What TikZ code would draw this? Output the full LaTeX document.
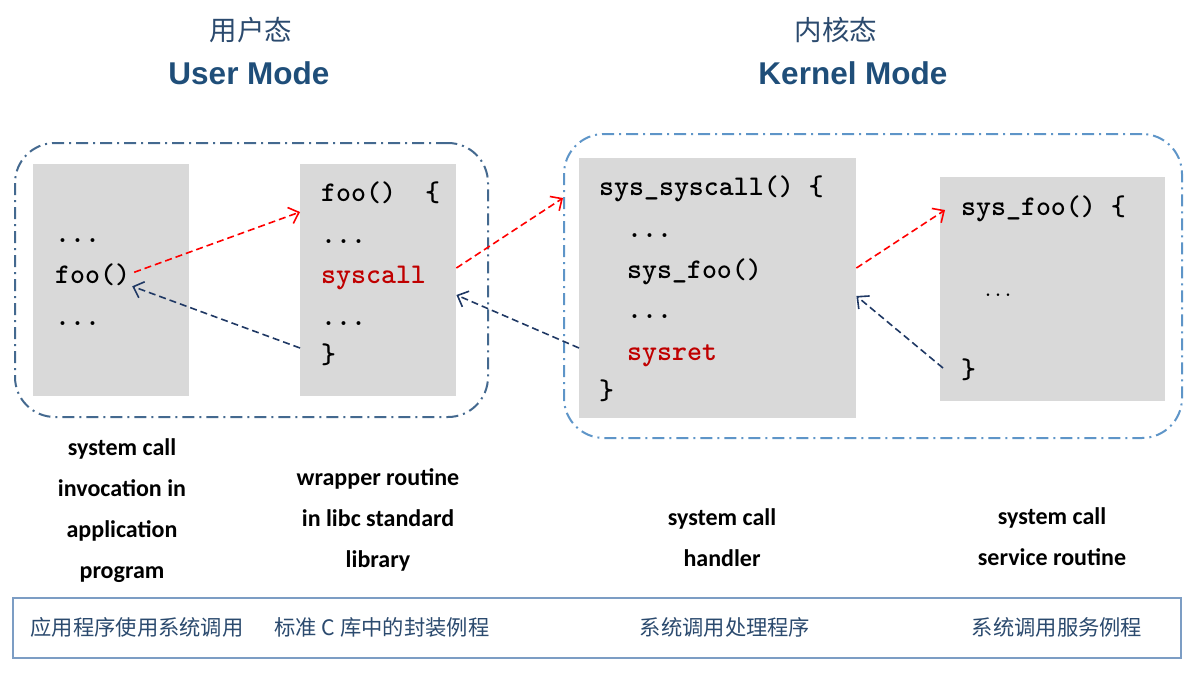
\documentclass[tikz,border=0pt]{standalone}
\usepackage{fontspec}
\setmainfont{Liberation Sans}
\newfontfamily\cjk{Noto Sans CJK SC}
\newfontfamily\lblfont{Carlito}
\usetikzlibrary{arrows.meta,calc}
\definecolor{gbox}{HTML}{D9D9D9}
\definecolor{titleblue}{HTML}{1F4E79}
\definecolor{cjkblue}{HTML}{2B4A6E}
\definecolor{frameL}{HTML}{44698F}
\definecolor{frameR}{HTML}{5E95C8}
\definecolor{arrblue}{HTML}{1F3864}
\definecolor{codered}{HTML}{C00000}
\definecolor{bottomframe}{HTML}{7C9DC4}
\begin{document}
\begin{tikzpicture}[x=1pt,y=-1pt,
  graybox/.style={fill=gbox, draw=none, anchor=north west, inner sep=0pt},
  frame/.style={draw, line width=2pt, rounded corners=40pt, anchor=north west, inner sep=0pt,
    dash pattern=on 12pt off 5pt on 2pt off 5pt},
  code/.style={font=\ttfamily\bfseries\fontsize{28.5}{28.5}\selectfont, anchor=base west, inner sep=0pt},
  redcode/.style={code, text=codered},
  smallcode/.style={font=\ttfamily\bfseries\fontsize{19}{19}\selectfont, anchor=base west, inner sep=0pt},
  lbl/.style={font=\lblfont\bfseries\fontsize{24}{41}\selectfont, align=center, inner sep=0pt},
  cjktitle/.style={font=\cjk\fontsize{27.5}{27.5}\selectfont, text=cjkblue, inner sep=0pt},
  entitle/.style={font=\bfseries\fontsize{31.5}{31.5}\selectfont, text=titleblue, inner sep=0pt},
  cjklbl/.style={font=\cjk\fontsize{21.3}{21.3}\selectfont, text=cjkblue, inner sep=0pt},
  redarrow/.style={draw=red, line width=1.6pt, dash pattern=on 7pt off 4pt,
    -{Straight Barb[length=9pt,width=17pt,line width=1.6pt]}},
  bluearrow/.style={draw=arrblue, line width=1.6pt, dash pattern=on 7pt off 4pt,
    -{Straight Barb[length=9pt,width=17pt,line width=1.6pt]}}
]
\useasboundingbox (0,0) rectangle (1196,672);

% titles
\node[cjktitle] (cu) at (251,30) {用户态};
\node[entitle] (eu) at (249,73) {User Mode};
\node[cjktitle] (ck) at (836,30) {内核态};
\node[entitle] (ek) at (853,73) {Kernel Mode};

% frames
\node[frame, draw=frameL, minimum width=473pt, minimum height=274pt] (fl) at (14,142) {};
\node[frame, draw=frameR, minimum width=618pt, minimum height=304pt] (fr) at (563,133) {};

% gray boxes
\node[graybox, minimum width=156pt, minimum height=232pt] (b1) at (33,164) {};
\node[graybox, minimum width=156pt, minimum height=232pt] (b2) at (300,164) {};
\node[graybox, minimum width=277pt, minimum height=260pt] (b3) at (579,158) {};
\node[graybox, minimum width=225pt, minimum height=224pt] (b4) at (940,177) {};

% box1 text
\node[code] (t1a) at (55,242) {...};
\node[code] (t1b) at (55,283) {foo()};
\node[code] (t1c) at (55,325) {...};

% box2 text
\node[code] (t2a) at (321,201) {foo()\hspace{0.5em} \{};
\node[code] (t2b) at (321,243) {...};
\node[redcode] (t2c) at (321,283) {syscall};
\node[code] (t2d) at (321,325) {...};
\node[code] (t2e) at (321,363) {\}};

% box3 text
\node[code] (t3a) at (599,195) {sys\_syscall() \{};
\node[code] (t3b) at (627,237) {...};
\node[code] (t3c) at (627,278) {sys\_foo()};
\node[code] (t3d) at (627,318) {...};
\node[redcode] (t3e) at (627,360) {sysret};
\node[code] (t3f) at (599,399) {\}};

% box4 text
\node[code] (t4a) at (961,215) {sys\_foo() \{};
\node[smallcode] (t4b) at (983,296) {...};
\node[code] (t4c) at (961,378) {\}};

% arrows
\draw[redarrow] ($(t1b.east)+(4,-2)$) -- (b2.west |- 0,212);
\draw[bluearrow] (b2.west |- 0,348) -- ($(t1b.east)+(2,12)$);
\draw[redarrow] (b2.east |- 0,268) -- (fr.west |- 0,198);
\draw[bluearrow] (b3.west |- 0,348) -- (b2.east |- 0,295);
\draw[redarrow] (b3.east |- 0,268) -- ($(b4.west |- 0,210)+(5,0)$);
\draw[bluearrow] ($(b4.west |- 0,368)+(3,0)$) -- (b3.east |- 0,296);

% english labels
\node[lbl] (l1) at (122,511) {system call\\invocation in\\application\\program};
\node[lbl] (l2) at (378,520) {wrapper routine\\in libc standard\\library};
\node[lbl] (l3) at (722,538) {system call\\handler};
\node[lbl] (l4) at (1052,537) {system call\\service routine};

% bottom frame
\node[draw=bottomframe, line width=2pt, minimum width=1168pt, minimum height=60pt, anchor=north west, inner sep=0pt] (bf) at (12,597) {};
\node[cjklbl] (c1) at (137,627) {应用程序使用系统调用};
\node[cjklbl] (c2) at (382,627) {标准 C 库中的封装例程};
\node[cjklbl] (c3) at (725,627) {系统调用处理程序};
\node[cjklbl] (c4) at (1057,627) {系统调用服务例程};
\end{tikzpicture}
\end{document}
